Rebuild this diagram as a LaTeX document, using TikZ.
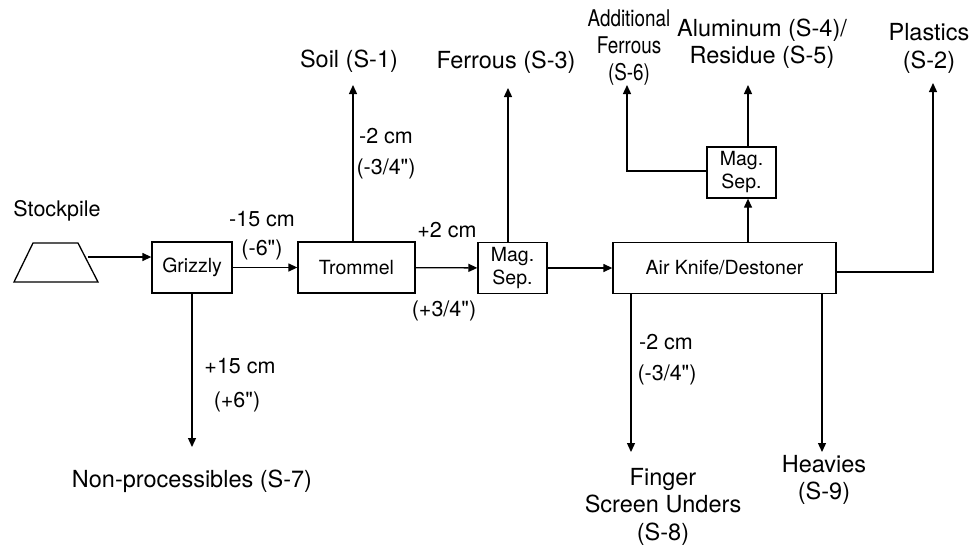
\documentclass[tikz,border=0pt]{standalone}
\usepackage{fontspec}
\setmainfont{TeX Gyre Heros}
\newfontfamily\narrowfont[FakeStretch=0.82]{TeX Gyre Heros}
\usetikzlibrary{arrows.meta}
\tikzset{
  flow/.style={-{Triangle[length=9pt,width=8pt]}, line width=1.3pt},
  unitbox/.style={draw, line width=1.3pt, minimum height=51pt, inner sep=0pt, align=center, font=\fontsize{19.5}{23}\selectfont},
  streamlab/.style={inner sep=0pt, align=center, font=\fontsize{23.5}{27.5}\selectfont},
  sizelab/.style={inner sep=0pt, font=\fontsize{21.5}{25}\selectfont},
}
\newcommand{\inch}{\textquotedbl}

\begin{document}
\begin{tikzpicture}[x=1pt,y=-1pt]
\useasboundingbox (0,0) rectangle (974,544);

% ---------------- feed ----------------
\node[streamlab, font=\fontsize{21.5}{25}\selectfont] (stocklab) at (57,211) {Stockpile};
\draw[line width=1.3pt] (14,282) -- (33,243) -- (78,243) -- (98,282) -- cycle;
\coordinate (pileout) at (88,257);

% ---------------- unit operations ----------------
\node[unitbox, minimum width=80pt]  (grizzly)  at (192,267.5) {Grizzly};
\node[unitbox, minimum width=117pt] (trommel)  at (356.5,267.5) {Trommel};
\node[unitbox, minimum width=69pt]  (magA)     at (512.5,268) {Mag.\\Sep.};
\node[unitbox, minimum width=223pt] (airknife) at (724.5,268) {Air Knife/Destoner};
\node[unitbox, minimum width=69pt]  (magB)     at (741.5,172.5) {Mag.\\Sep.};

% ---------------- product streams ----------------
\node[streamlab] (soil)     at (349,61)    {Soil (S-1)};
\node[streamlab] (ferrous)  at (506,62)    {Ferrous (S-3)};
\node[streamlab, font=\narrowfont\fontsize{23}{27}\selectfont] (addfer) at (629,48) {Additional\\Ferrous\\(S-6)};
\node[streamlab] (alum)     at (762,43.5)  {Aluminum (S-4)/\\Residue (S-5)};
\node[streamlab] (plastics) at (929,48.5)  {Plastics\\(S-2)};
\node[streamlab] (nonproc)  at (192,481)   {Non-processibles (S-7)};
\node[streamlab] (finger)   at (663,506.5) {Finger\\Screen Unders\\(S-8)};
\node[streamlab] (heavies)  at (824,480)   {Heavies\\(S-9)};

% arrow ends
\coordinate (soilend)   at (353,85);
\coordinate (ferend)    at (508,88);
\coordinate (addend)    at (627,85);
\coordinate (aluend)    at (748,85);
\coordinate (plaend)    at (933,83);
\coordinate (nonend)    at (192,447);
\coordinate (fingerend) at (631,452);
\coordinate (heavyend)  at (822,452);

% ---------------- size cuts ----------------
\node[sizelab] (cutA)  at (262,219) {-15 cm};
\node[sizelab] (cutAi) at (262,250) {(-6\inch)};
\node[sizelab] (cutB)  at (240,366) {+15 cm};
\node[sizelab] (cutBi) at (237,402) {(+6\inch)};
\node[sizelab] (cutC)  at (386,136) {-2 cm};
\node[sizelab] (cutCi) at (386,169) {(-3/4\inch)};
\node[sizelab] (cutD)  at (447,230) {+2 cm};
\node[sizelab] (cutDi) at (444,311) {(+3/4\inch)};
\node[sizelab] (cutE)  at (666,342) {-2 cm};
\node[sizelab] (cutEi) at (667,375) {(-3/4\inch)};

% ---------------- main line ----------------
\draw[flow] (pileout) -- (pileout -| grizzly.west);
\draw[flow] (grizzly) -- (trommel);
\draw[flow] (trommel) -- (magA);
\draw[flow] (magA) -- (airknife);
\draw[flow] (airknife.north -| aluend) -- (magB.south -| aluend);

% ---------------- outlets ----------------
\draw[flow] (grizzly.south -| nonend) -- (nonend);
\draw[flow] (trommel.north -| soilend) -- (soilend);
\draw[flow] (magA.north -| ferend) -- (ferend);
\draw[flow] (magB.north -| aluend) -- (aluend);
\draw[flow] ([yshift=1.5pt]magB.west) -| (addend);
\draw[flow] ([yshift=-4pt]airknife.east) -| (plaend);
\draw[flow] (airknife.south -| fingerend) -- (fingerend);
\draw[flow] (airknife.south -| heavyend) -- (heavyend);

\end{tikzpicture}
\end{document}
